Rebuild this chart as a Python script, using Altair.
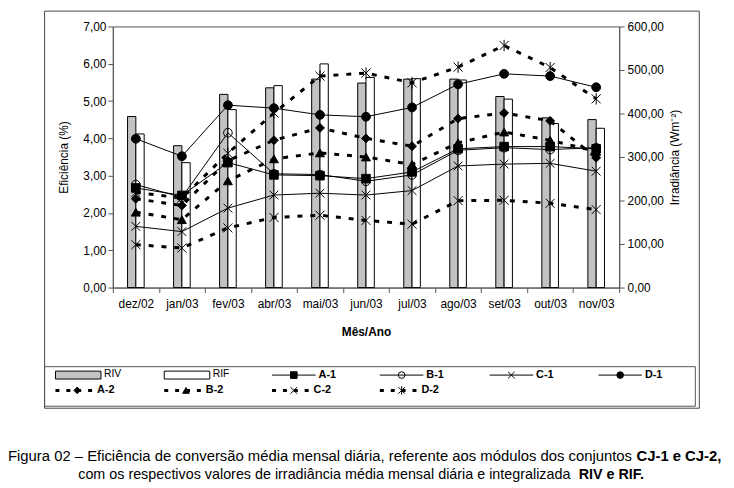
import altair as alt
import pandas as pd

# ---------------- data ----------------
months = ["dez/02", "jan/03", "fev/03", "abr/03", "mai/03", "jun/03",
          "jul/03", "ago/03", "set/03", "out/03", "nov/03"]

riv = [393, 326, 444, 459, 479, 470, 479, 479, 439, 390, 386]
rif = [353, 287, 409, 464, 514, 483, 480, 477, 433, 377, 366]

a1 = [2.67, 2.47, 3.35, 3.02, 3.00, 2.92, 3.10, 3.72, 3.78, 3.78, 3.72]
b1 = [2.76, 2.42, 4.15, 3.05, 3.03, 2.85, 3.02, 3.68, 3.75, 3.70, 3.75]
c1 = [1.64, 1.50, 2.13, 2.48, 2.53, 2.48, 2.60, 3.26, 3.31, 3.33, 3.12]
d1 = [3.99, 3.52, 4.89, 4.81, 4.63, 4.58, 4.83, 5.45, 5.73, 5.67, 5.37]
a2 = [2.38, 2.20, 3.40, 3.95, 4.28, 4.00, 3.79, 4.53, 4.68, 4.47, 3.48]
b2 = [2.02, 1.82, 2.86, 3.45, 3.61, 3.50, 3.30, 3.88, 4.17, 3.95, 3.65]
c2 = [1.15, 1.06, 1.60, 1.88, 1.94, 1.80, 1.70, 2.33, 2.34, 2.26, 2.09]
d2 = [2.55, 2.40, 3.60, 4.68, 5.67, 5.75, 5.49, 5.91, 6.49, 5.90, 5.06]

series_names = ["A-1", "B-1", "C-1", "D-1", "A-2", "B-2", "C-2", "D-2"]
series_vals = [a1, b1, c1, d1, a2, b2, c2, d2]
bar_names = ["RIV", "RIF"]

y_left_ticks = [0, 1, 2, 3, 4, 5, 6, 7]
y_right_ticks = [0, 100, 200, 300, 400, 500, 600]

caption1_normal = "Figura 02 – Eficiência de conversão média mensal diária, referente aos módulos dos conjuntos"
caption1_bold = "CJ-1 e CJ-2,"
caption2_normal = "com os respectivos valores de irradiância média mensal diária e integralizada"
caption2_bold = "RIV e RIF."

# ---------------- tables ----------------
eff = pd.DataFrame([
    {"mes": m, "serie": n, "ef": v, "grupo": n[-1]}
    for n, vals in zip(series_names, series_vals)
    for m, v in zip(months, vals)
])
irr = pd.DataFrame([
    {"mes": m, "tipo": t, "irr": v}
    for t, vals in zip(bar_names, [riv, rif])
    for m, v in zip(months, vals)
])

FONT = "Liberation Sans"
NUM = "replace(format(datum.value, '.2f'), '.', ',')"
X_PATH = "M-1,-1L1,1M-1,1L1,-1"
AST_PATH = "M-1,-1L1,1M-1,1L1,-1M0,-1.25L0,1.25"

shape_scale = alt.Scale(domain=series_names,
                        range=["square", "circle", X_PATH, "circle",
                               "diamond", "triangle-up", X_PATH, AST_PATH])
fill_scale = alt.Scale(domain=series_names,
                       range=["black", "transparent", "transparent", "black",
                              "black", "black", "transparent", "transparent"])
size_scale = alt.Scale(domain=series_names,
                       range=[75, 85, 85, 95, 115, 95, 85, 100])

xscale = alt.Scale(domain=months, paddingInner=0, paddingOuter=0)
xaxis = alt.Axis(title="Mês/Ano", titleFontWeight="bold", labelAngle=0,
                 tickBand="extent", tickSize=5, labelPadding=6, titlePadding=17,
                 labelFont=FONT, titleFont=FONT, labelFontSize=12, titleFontSize=12,
                 labelColor="black", titleColor="black",
                 domainColor="#555", tickColor="#555", grid=False)
X = alt.X("mes:N", scale=xscale, sort=months, axis=xaxis)

left_axis = alt.Axis(orient="left", title="Eficiência (%)", values=y_left_ticks,
                     labelExpr=NUM, tickSize=5, labelPadding=2, titlePadding=12,
                     labelFont=FONT, titleFont=FONT, labelFontSize=12, titleFontSize=12,
                     titleFontWeight="normal", labelColor="black", titleColor="black",
                     domainColor="#555", tickColor="#555", grid=False)
right_axis = alt.Axis(orient="right", title="Irradiância (Wm⁻²)", values=y_right_ticks,
                      labelExpr=NUM, tickSize=5, labelPadding=3, titlePadding=6,
                      titleAngle=270, titleBaseline="top",
                      labelFont=FONT, titleFont=FONT, labelFontSize=12, titleFontSize=12,
                      titleFontWeight="normal", labelColor="black", titleColor="black",
                      domainColor="#555", tickColor="#555", grid=False)

yl = alt.Scale(domain=[0, 7], nice=False)
yr = alt.Scale(domain=[0, 600], nice=False)

one = alt.Data(values=[{"k": 1}])

# ---------------- frames ----------------
frame = alt.Chart(one).mark_rect(fill=None, stroke="#444", strokeWidth=1).encode(
    x=alt.value(-69), x2=alt.value(593), y=alt.value(-15.5), y2=alt.value(386))
legend_box = alt.Chart(one).mark_rect(fill=None, stroke="#555", strokeWidth=1).encode(
    x=alt.value(-69), x2=alt.value(589), y=alt.value(344), y2=alt.value(384))

# ---------------- bars ----------------
offset_domain = ["_l", "RIV", "RIF", "_r"]
RIV_FILL = "#c2c2c2"
bar_layer = alt.Chart(irr).mark_bar(stroke="black", strokeWidth=1).encode(
    x=X,
    xOffset=alt.XOffset("tipo:N",
                        scale=alt.Scale(domain=offset_domain, paddingInner=0, paddingOuter=0.77)),
    y=alt.Y("irr:Q", scale=yr, axis=right_axis),
    fill=alt.condition(alt.datum.tipo == "RIV", alt.value(RIV_FILL), alt.value("white")),
)

# ---------------- lines & points ----------------
line1 = alt.Chart(eff).transform_filter(alt.datum.grupo == "1").mark_line(
    color="black", strokeWidth=1).encode(
    x=X, y=alt.Y("ef:Q", scale=yl, axis=left_axis), detail="serie:N")
line2 = alt.Chart(eff).transform_filter(alt.datum.grupo == "2").mark_line(
    color="black", strokeWidth=3, strokeDash=[5, 8]).encode(
    x=X, y=alt.Y("ef:Q", scale=yl, axis=None), detail="serie:N")
pts = alt.Chart(eff).mark_point(filled=True, stroke="black", strokeWidth=1, opacity=1).encode(
    x=X, y=alt.Y("ef:Q", scale=yl, axis=None),
    shape=alt.Shape("serie:N", scale=shape_scale, legend=None),
    fill=alt.Fill("serie:N", scale=fill_scale, legend=None),
    size=alt.Size("serie:N", scale=size_scale, legend=None),
)

# ---------------- legend (manual, Excel style) ----------------
col_x = [-58, 52, 161, 270, 381, 491]
row_y = [352.5, 368]
legend_items = [("RIV", 0, 0, "bar"), ("RIF", 1, 0, "bar"),
                ("A-1", 2, 0, "1"), ("B-1", 3, 0, "1"), ("C-1", 4, 0, "1"), ("D-1", 5, 0, "1"),
                ("A-2", 0, 1, "2"), ("B-2", 1, 1, "2"), ("C-2", 2, 1, "2"), ("D-2", 3, 1, "2")]
leg_rows = []
for name, c, r, kind in legend_items:
    cx, cy = col_x[c], row_y[r]
    if kind == "bar":
        leg_rows.append({"serie": name, "kind": kind, "x0": cx, "x1": cx + 46,
                         "y": cy, "y0": cy - 4, "y1": cy + 4, "xm": cx + 23, "xt": cx + 49})
    elif kind == "1":
        leg_rows.append({"serie": name, "kind": kind, "x0": cx, "x1": cx + 44,
                         "y": cy, "y0": cy, "y1": cy, "xm": cx + 22, "xt": cx + 47})
    else:
        leg_rows.append({"serie": name, "kind": kind, "x0": cx, "x1": cx + 40,
                         "y": cy, "y0": cy, "y1": cy, "xm": cx + 22, "xt": cx + 42})
leg = pd.DataFrame(leg_rows)

LX0 = alt.X("x0:Q", scale=None)
LY = alt.Y("y:Q", scale=None)

leg_rect = alt.Chart(leg).transform_filter(alt.datum.kind == "bar").mark_rect(
    stroke="black", strokeWidth=1).encode(
    x=LX0, x2="x1:Q", y=alt.Y("y0:Q", scale=None), y2="y1:Q",
    fill=alt.condition(alt.datum.serie == "RIV", alt.value(RIV_FILL), alt.value("white")))
leg_l1 = alt.Chart(leg).transform_filter(alt.datum.kind == "1").mark_rule(
    color="black", strokeWidth=1).encode(x=LX0, x2="x1:Q", y=LY)
leg_l2 = alt.Chart(leg).transform_filter(alt.datum.kind == "2").mark_rule(
    color="black", strokeWidth=3, strokeDash=[4, 7]).encode(x=LX0, x2="x1:Q", y=LY)
leg_pts = alt.Chart(leg).transform_filter(alt.datum.kind != "bar").mark_point(
    filled=True, stroke="black", strokeWidth=1, opacity=1, size=45).encode(
    x=alt.X("xm:Q", scale=None), y=LY,
    shape=alt.Shape("serie:N", scale=shape_scale, legend=None),
    fill=alt.Fill("serie:N", scale=fill_scale, legend=None))
leg_txt_n = alt.Chart(leg).transform_filter(alt.datum.kind == "bar").mark_text(
    align="left", baseline="middle", font=FONT, fontSize=10.5, color="black", dy=-1).encode(
    x=alt.X("xt:Q", scale=None), y=LY, text="serie:N")
leg_txt_b = alt.Chart(leg).transform_filter(alt.datum.kind != "bar").mark_text(
    align="left", baseline="middle", font=FONT, fontSize=11, fontWeight="bold", color="black").encode(
    x=alt.X("xt:Q", scale=None), y=LY, text="serie:N")

# ---------------- caption ----------------
def cap(txt, x, y, align, bold, size):
    return alt.Chart(one).mark_text(
        text=txt, align=align, baseline="alphabetic", font=FONT, fontSize=size,
        fontWeight="bold" if bold else "normal", color="black").encode(
        x=alt.value(x), y=alt.value(y))

Y1, Y2 = 439, 457.5
cap_layers = [
    cap(caption1_normal, -106, Y1, "left", False, 15),
    cap(caption1_bold, 529.5, Y1, "left", True, 15),
    cap(caption2_normal, -35, Y2, "left", False, 14.5),
    cap(caption2_bold, 471, Y2, "left", True, 14.5),
]

chart = alt.layer(
    frame, legend_box, bar_layer, line1, line2, pts,
    leg_rect, leg_l1, leg_l2, leg_pts, leg_txt_n, leg_txt_b,
    *cap_layers,
).resolve_scale(
    y="independent"
).properties(
    width=512, height=264,
    padding={"left": 106, "top": 16, "right": 108, "bottom": 200},
    autosize=alt.AutoSizeParams(type="none"),
    background="white",
).configure_view(stroke="#555", strokeWidth=1)

chart.save("out.html", embed_options={"renderer": "svg", "actions": False})
